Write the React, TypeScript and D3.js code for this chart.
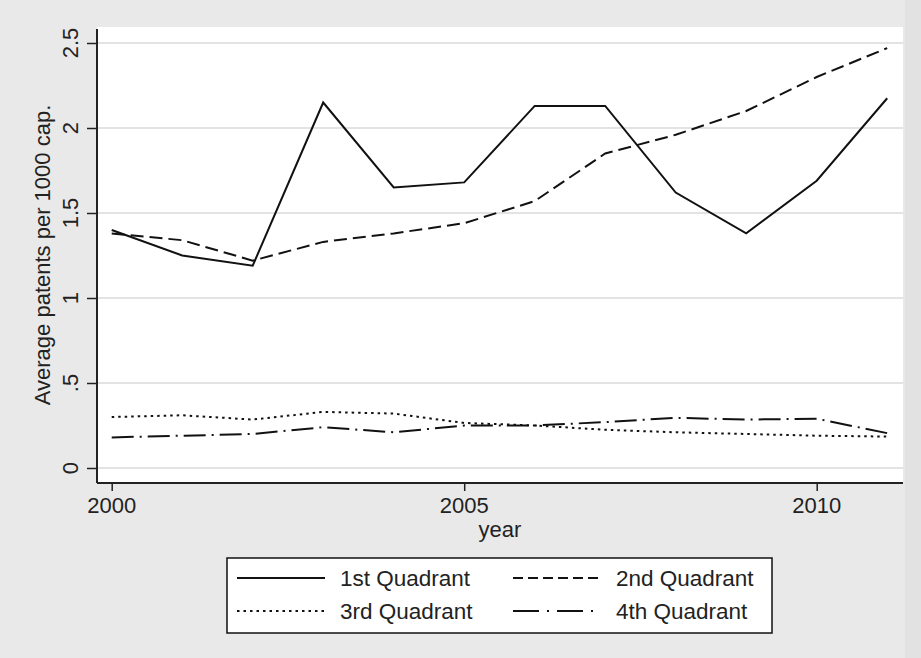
import React, { useEffect, useRef } from "react";
import * as d3 from "d3";

const years = [2000, 2001, 2002, 2003, 2004, 2005, 2006, 2007, 2008, 2009, 2010, 2011];
const q1 = [1.4, 1.25, 1.19, 2.15, 1.65, 1.68, 2.13, 2.13, 1.62, 1.38, 1.69, 2.175];
const q2 = [1.38, 1.34, 1.22, 1.33, 1.38, 1.44, 1.57, 1.85, 1.96, 2.1, 2.3, 2.47];
const q3 = [0.3, 0.31, 0.285, 0.33, 0.32, 0.265, 0.25, 0.225, 0.21, 0.2, 0.19, 0.185];
const q4 = [0.18, 0.19, 0.2, 0.24, 0.21, 0.25, 0.25, 0.27, 0.295, 0.285, 0.29, 0.205];
const seriesNames = ["1st Quadrant", "2nd Quadrant", "3rd Quadrant", "4th Quadrant"];
const yTicks = [0, 0.5, 1, 1.5, 2, 2.5];
const yTickLabels = ["0", ".5", "1", "1.5", "2", "2.5"];
const xTicks = [2000, 2005, 2010];

const FONT = "'Liberation Sans', Arial, sans-serif";

export default function App() {
  const ref = useRef<SVGSVGElement | null>(null);

  useEffect(() => {
    const svg = d3.select(ref.current);
    svg.selectAll("*").remove();

    const width = 921;
    const height = 658;
    const left = 97, right = 903, top = 27, bottom = 483;

    const x = d3.scaleLinear().domain([2000, 2011]).range([111.7, 887.2]);
    const y = d3.scaleLinear().domain([0, 2.5]).range([468, 43]);

    // backgrounds
    svg.append("rect").attr("width", width).attr("height", height).attr("fill", "#e9e9e9");
    svg.append("rect").attr("x", 905).attr("y", 0).attr("width", 16).attr("height", height).attr("fill", "#e2e2e2");
    svg.append("rect")
      .attr("x", left).attr("y", top)
      .attr("width", right - left).attr("height", bottom - top)
      .attr("fill", "#ffffff");

    // gridlines
    svg.append("g").selectAll("line").data(yTicks).enter().append("line")
      .attr("x1", left).attr("x2", right)
      .attr("y1", d => y(d)).attr("y2", d => y(d))
      .attr("stroke", "#e3e3e3").attr("stroke-width", 2);

    // y axis
    const yAxisG = svg.append("g").attr("transform", `translate(${left},0)`);
    yAxisG.call(d3.axisLeft(y).tickValues(yTicks).tickSize(10).tickFormat(() => ""));
    yAxisG.select(".domain").remove();
    yAxisG.selectAll(".tick line").attr("stroke", "#222").attr("stroke-width", 1.5);
    svg.append("line").attr("x1", left).attr("x2", left).attr("y1", 29).attr("y2", bottom)
      .attr("stroke", "#222").attr("stroke-width", 2);

    svg.append("g").selectAll("text").data(yTicks).enter().append("text")
      .attr("transform", (d) => `translate(78,${y(d)}) rotate(-90)`)
      .attr("text-anchor", "middle")
      .attr("font-family", FONT).attr("font-size", 22).attr("fill", "#222")
      .text((d, i) => yTickLabels[i]);

    // x axis
    const xAxisG = svg.append("g").attr("transform", `translate(0,${bottom})`);
    xAxisG.call(d3.axisBottom(x).tickValues(xTicks).tickSize(8).tickFormat(() => ""));
    xAxisG.select(".domain").remove();
    xAxisG.selectAll(".tick line").attr("stroke", "#222").attr("stroke-width", 1.5);
    svg.append("line").attr("x1", left).attr("x2", right).attr("y1", bottom).attr("y2", bottom)
      .attr("stroke", "#222").attr("stroke-width", 2);

    svg.append("g").selectAll("text").data(xTicks).enter().append("text")
      .attr("x", d => x(d)).attr("y", 513)
      .attr("text-anchor", "middle")
      .attr("font-family", FONT).attr("font-size", 22).attr("fill", "#222")
      .text(d => String(d));

    svg.append("text")
      .attr("x", (left + right) / 2).attr("y", 537)
      .attr("text-anchor", "middle")
      .attr("font-family", FONT).attr("font-size", 22).attr("fill", "#222")
      .text("year");

    svg.append("text")
      .attr("transform", `translate(50,${(top + bottom) / 2}) rotate(-90)`)
      .attr("text-anchor", "middle")
      .attr("font-family", FONT).attr("font-size", 22).attr("fill", "#222")
      .text("Average patents per 1000 cap.");

    // lines
    const series = [q1, q2, q3, q4];
    const dashes = ["", "13,6", "2.5,4", "22,6,2,6"];
    const line = d3.line<number>()
      .x((d, i) => x(years[i]))
      .y(d => y(d));

    svg.append("g").selectAll("path").data(series).enter().append("path")
      .attr("d", d => line(d))
      .attr("fill", "none")
      .attr("stroke", "#111")
      .attr("stroke-width", 2)
      .attr("stroke-dasharray", (d, i) => dashes[i]);

    // legend
    const legend = svg.append("g");
    legend.append("rect")
      .attr("x", 227).attr("y", 558).attr("width", 545).attr("height", 75)
      .attr("fill", "#fff").attr("stroke", "#111").attr("stroke-width", 1.5);

    const legendDashes = ["", "10,5", "2.5,4", "26,8,2,8"];
    const cols = [237, 513];
    const rows = [578, 611];
    seriesNames.forEach((name, i) => {
      const cx = cols[i % 2];
      const cy = rows[Math.floor(i / 2)];
      legend.append("line")
        .attr("x1", cx).attr("x2", cx + 88).attr("y1", cy).attr("y2", cy)
        .attr("stroke", "#111").attr("stroke-width", 2)
        .attr("stroke-dasharray", legendDashes[i]);
      legend.append("text")
        .attr("x", cx + 103).attr("y", cy + 8)
        .attr("font-family", FONT).attr("font-size", 22.5).attr("fill", "#222")
        .text(name);
    });
  }, []);

  return (
    <svg ref={ref} width={921} height={658} style={{ position: "absolute", left: 0, top: 0 }} />
  );
}
